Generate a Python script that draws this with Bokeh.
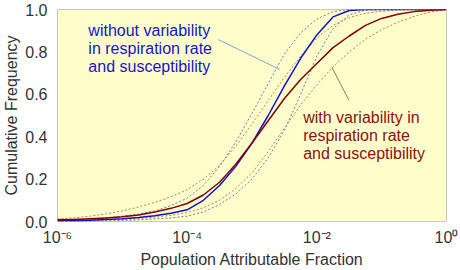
from bokeh.plotting import figure
from bokeh.models import FixedTicker, Label, Range1d
from bokeh.embed import file_html
from bokeh.resources import INLINE

# ---- data ----
exponents = [-6.0, -5.75, -5.5, -5.25, -5.0, -4.75, -4.5, -4.25, -4.0, -3.75, -3.5, -3.25,
             -3.0, -2.75, -2.5, -2.25, -2.0, -1.75, -1.5, -1.25, -1.0, -0.75, -0.5, -0.25, 0.0]
paf = [10 ** e for e in exponents]

without_var = [0.003, 0.004, 0.006, 0.009, 0.013, 0.019, 0.027, 0.039, 0.055, 0.10, 0.17, 0.26,
               0.37, 0.50, 0.64, 0.77, 0.88, 0.965, 0.995, 1.0, 1.0, 1.0, 1.0, 1.0, 1.0]
without_upper = [0.005, 0.007, 0.010, 0.016, 0.025, 0.035, 0.050, 0.075, 0.11, 0.17, 0.26, 0.375,
                 0.51, 0.65, 0.79, 0.89, 0.955, 0.99, 1.0, 1.0, 1.0, 1.0, 1.0, 1.0, 1.0]
without_lower = [0.001, 0.0015, 0.002, 0.003, 0.005, 0.008, 0.012, 0.017, 0.025, 0.045, 0.08, 0.13,
                 0.20, 0.30, 0.43, 0.60, 0.78, 0.91, 0.975, 0.997, 1.0, 1.0, 1.0, 1.0, 1.0]

with_var = [0.008, 0.010, 0.013, 0.017, 0.022, 0.031, 0.045, 0.062, 0.085, 0.125, 0.185, 0.27,
            0.37, 0.475, 0.58, 0.67, 0.745, 0.82, 0.875, 0.925, 0.958, 0.978, 0.99, 0.997, 1.0]
with_upper = [0.012, 0.017, 0.025, 0.036, 0.050, 0.068, 0.090, 0.117, 0.15, 0.20, 0.265, 0.355,
              0.46, 0.57, 0.68, 0.78, 0.865, 0.925, 0.962, 0.982, 0.992, 0.997, 1.0, 1.0, 1.0]
with_lower = [0.002, 0.003, 0.005, 0.007, 0.010, 0.014, 0.020, 0.029, 0.042, 0.065, 0.10, 0.155,
              0.23, 0.33, 0.44, 0.55, 0.645, 0.73, 0.80, 0.86, 0.905, 0.94, 0.968, 0.988, 1.0]

x_ticks = [1e-6, 1e-4, 1e-2, 1.0]
x_tick_labels = ["10\u207b\u2076", "10\u207b\u2074", "10\u207b\u00b2", "10\u2070"]
y_ticks = [0.0, 0.2, 0.4, 0.6, 0.8, 1.0]
y_tick_labels = ["0.0", "0.2", "0.4", "0.6", "0.8", "1.0"]

blue_note = ["without variability", "in respiration rate", "and susceptibility"]
red_note = ["with variability in", "respiration rate", "and susceptibility"]

FONT = "Liberation Sans"
TXT = "#333333"
BLUE = "#1414c8"
RED = "#8b1010"

p = figure(width=460, height=270, x_axis_type="log",
           x_range=Range1d(1e-6, 1.0), y_range=Range1d(0.0, 1.0),
           output_backend="svg", toolbar_location=None,
           min_border_left=55, min_border_right=14, min_border_top=9, min_border_bottom=49)

p.background_fill_color = "#ffffcc"
p.border_fill_color = "white"
p.outline_line_color = "#c8c8c8"
p.outline_line_width = 1
p.grid.visible = False

for ax in (p.xaxis[0], p.yaxis[0]):
    ax.axis_line_color = None
    ax.major_tick_line_color = None
    ax.minor_tick_line_color = None
    ax.major_label_text_font = FONT
    ax.major_label_text_font_size = "16px"
    ax.major_label_text_color = TXT
    ax.axis_label_text_font = FONT
    ax.axis_label_text_font_size = "16px"
    ax.axis_label_text_font_style = "normal"
    ax.axis_label_text_color = TXT

p.xaxis.ticker = FixedTicker(ticks=x_ticks)
p.xaxis.major_label_overrides = {t: l for t, l in zip(x_ticks, x_tick_labels)}
p.xaxis.major_label_standoff = 1
p.xaxis.axis_label = "Population Attributable Fraction"
p.xaxis.axis_label_standoff = 2

p.yaxis.ticker = FixedTicker(ticks=y_ticks)
p.yaxis.major_label_overrides = {t: l for t, l in zip(y_ticks, y_tick_labels)}
p.yaxis.major_label_standoff = 4
p.yaxis.axis_label = "Cumulative Frequency"
p.yaxis.axis_label_standoff = 2

# dotted bounds
p.line(paf, without_upper, line_color="#5a5aa8", line_width=1, line_dash="2 2", line_alpha=0.85)
p.line(paf, without_lower, line_color="#5a5aa8", line_width=1, line_dash="2 2", line_alpha=0.85)
p.line(paf, with_upper, line_color="#a8683a", line_width=1, line_dash="2 2", line_alpha=0.85)
p.line(paf, with_lower, line_color="#a8683a", line_width=1, line_dash="2 2", line_alpha=0.85)

# central curves
p.line(paf, without_var, line_color="#1010d0", line_width=1.5, line_join="round")
p.line(paf, with_var, line_color="#800000", line_width=1.5, line_join="round")

# leader lines
p.line([10 ** -3.52, 10 ** -2.57], [0.858, 0.717], line_color="#7fa6cc", line_width=1)
p.line([10 ** -1.765, 10 ** -1.504], [0.726, 0.571], line_color="#a87050", line_width=1)

# annotations
for i, t in enumerate(blue_note):
    p.add_layout(Label(x=10 ** -5.524, y=0.901 - i * 0.085, text=t, text_align="left",
                       text_baseline="middle", text_font=FONT, text_font_size="16px",
                       text_color=BLUE))
for i, t in enumerate(red_note):
    p.add_layout(Label(x=10 ** -2.21, y=0.491 - i * 0.085, text=t, text_align="left",
                       text_baseline="middle", text_font=FONT, text_font_size="16px",
                       text_color=RED))

open("out.html", "w").write(file_html(p, INLINE))
